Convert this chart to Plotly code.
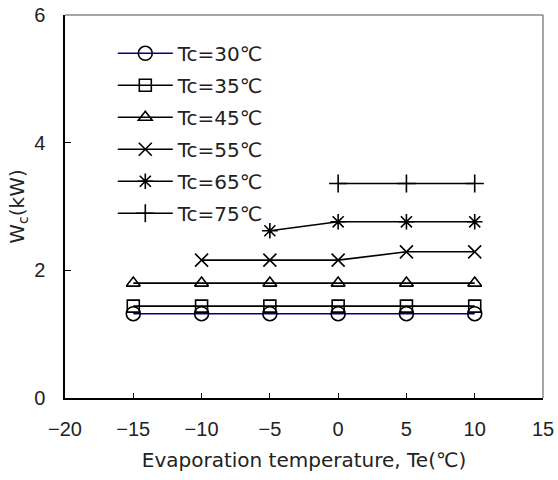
import plotly.graph_objects as go

te = [-15, -10, -5, 0, 5, 10]
tc30 = [1.32, 1.32, 1.32, 1.32, 1.32, 1.32]
tc35 = [1.44, 1.44, 1.44, 1.44, 1.44, 1.44]
tc45 = [1.80, 1.80, 1.80, 1.80, 1.80, 1.80]
tc55 = [None, 2.16, 2.16, 2.16, 2.29, 2.29]
tc65 = [None, None, 2.62, 2.76, 2.76, 2.76]
tc75 = [None, None, None, 3.36, 3.36, 3.36]

series = [
    ("Tc=30℃", tc30, "circle-open", 14, "#00008B"),
    ("Tc=35℃", tc35, "square-open", 12, "black"),
    ("Tc=45℃", tc45, "triangle-up-open", 12, "black"),
    ("Tc=55℃", tc55, "x-thin-open", 13, "black"),
    ("Tc=65℃", tc65, "asterisk-open", 13, "black"),
    ("Tc=75℃", tc75, "cross-thin-open", 13, "black"),
]

TXT = "DejaVu Sans, sans-serif"
NUM = "Liberation Sans, Arial, sans-serif"

fig = go.Figure()
for name, ys, sym, sz, lc in series:
    fig.add_trace(go.Scatter(
        x=te, y=ys, name=name, mode="lines+markers", legendgroup=name,
        line=dict(color=lc, width=1.6),
        marker=dict(symbol=sym, size=sz, color="black",
                    line=dict(color="black", width=1.6)),
        connectgaps=False,
    ))

fig.update_layout(
    width=558, height=480,
    margin=dict(l=65, r=15, t=15, b=82),
    paper_bgcolor="white", plot_bgcolor="white",
    font=dict(family=TXT, size=18, color="#222"),
    showlegend=True,
    legend=dict(x=0.10, y=0.951, xanchor="left", yanchor="top",
                bgcolor="rgba(0,0,0,0)", font=dict(family=TXT, size=20, color="#222"),
                tracegroupgap=3, itemwidth=55),
    xaxis=dict(range=[-20, 15], tickvals=[-20, -15, -10, -5, 0, 5, 10, 15],
               ticktext=["−20", "−15", "−10", "−5", "0", "5", "10", "15"],
               ticks="inside", ticklen=5, tickcolor="black", ticklabelstandoff=12,
               showline=True, linecolor="black", linewidth=1.5,
               showgrid=False, zeroline=False, automargin=False,
               title=dict(text="Evaporation temperature, Te(℃)",
                          font=dict(family=TXT, size=20), standoff=14),
               tickfont=dict(family=NUM, size=20)),
    yaxis=dict(range=[0, 6], tickvals=[0, 2, 4, 6],
               ticks="inside", ticklen=6, tickcolor="black", ticklabelstandoff=14,
               showline=True, linecolor="black", linewidth=1.5,
               showgrid=False, zeroline=False, automargin="left",
               title=dict(text="W<sub>c</sub>(kW)", font=dict(family=TXT, size=20), standoff=4),
               tickfont=dict(family=NUM, size=20)),
)

fig.add_shape(type="line", xref="paper", yref="paper", x0=0, x1=1, y0=1, y1=1,
              line=dict(color="#888", width=1.5))
fig.add_shape(type="line", xref="paper", yref="paper", x0=1, x1=1, y0=0, y1=1,
              line=dict(color="#888", width=1.5))

fig.write_html("out.html")
